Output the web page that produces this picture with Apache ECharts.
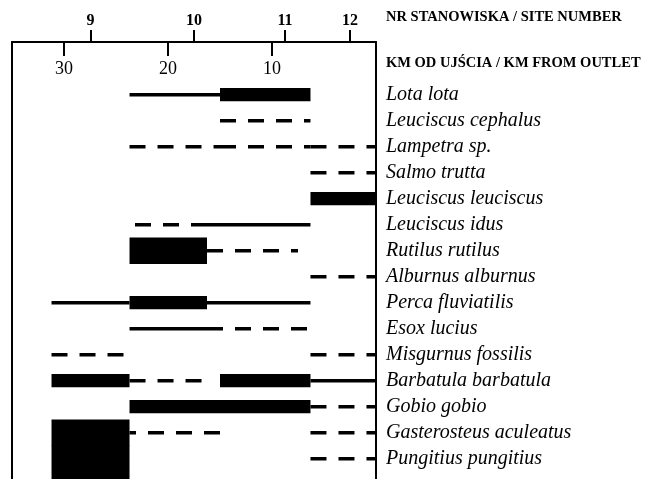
<!DOCTYPE html>
<html><head><meta charset="utf-8">
<script src="https://cdn.jsdelivr.net/npm/echarts@6/dist/echarts.min.js"></script>
<style>html,body{margin:0;padding:0;background:#fff}#c{width:645px;height:479px}</style>
</head><body><div id="c"></div>
<script>
// Species (rows, top to bottom)
const species = [
  'Lota lota','Leuciscus cephalus','Lampetra sp.','Salmo trutta','Leuciscus leuciscus',
  'Leuciscus idus','Rutilus rutilus','Alburnus alburnus','Perca fluviatilis','Esox lucius',
  'Misgurnus fossilis','Barbatula barbatula','Gobio gobio','Gasterosteus aculeatus','Pungitius pungitius'
];
// km from outlet tick labels
const kmTicks = [10, 20, 30];
// site numbers and their km position
const siteNumbers = [9, 10, 11, 12];
const siteKm = [27.45, 17.5, 8.75, 2.5];
// occurrence segments: [speciesIndex, fromKm, toKm, kind]
const segments = [
  [0, 23.7, 15.0, 'line'], [0, 15.0, 6.3, 'bar'],
  [1, 15.0, 6.3, 'dash'],
  [2, 23.7, 15.0, 'dash'], [2, 15.0, 6.3, 'dash'], [2, 6.3, 0, 'dash'],
  [3, 6.3, 0, 'dash'],
  [4, 6.3, 0, 'bar'],
  [5, 16.25, 23.7, 'dash'], [5, 16.25, 6.3, 'line'],
  [6, 23.7, 16.25, 'wide'], [6, 16.25, 7.5, 'dash'],
  [7, 6.3, 0, 'dash'],
  [8, 31.2, 23.7, 'line'], [8, 23.7, 16.25, 'bar'], [8, 16.25, 6.3, 'line'],
  [9, 23.7, 16.25, 'line'], [9, 16.25, 6.3, 'dash'],
  [10, 31.2, 23.7, 'dash'], [10, 6.3, 0, 'dash'],
  [11, 31.2, 23.7, 'bar'], [11, 23.7, 16.25, 'dash'], [11, 15.0, 6.3, 'bar'], [11, 6.3, 0, 'line'],
  [12, 23.7, 15.0, 'bar'], [12, 15.0, 6.3, 'bar'], [12, 6.3, 0, 'dash'],
  [13, 31.2, 23.7, 'wide'], [13, 15.0, 23.7, 'dash'], [13, 6.3, 0, 'dash'],
  [14, 31.2, 23.7, 'wide'], [14, 6.3, 0, 'dash']
];

const kindCode = {line: 0, dash: 1, bar: 2, wide: 3};
const segData = segments.map(s => [s[0], s[1], s[2], kindCode[s[3]]]);
const rowIdx = species.map((_, i) => i);
const FONT = 'Liberation Serif';

const chart = echarts.init(document.getElementById('c'), null, {renderer: 'canvas'});
chart.setOption({
  animation: false,
  backgroundColor: '#fff',
  textStyle: {fontFamily: FONT, color: '#000'},
  grid: {left: 12, top: 42, width: 364, height: 437},
  xAxis: [
    {
      type: 'value', position: 'top', inverse: true, min: 0, max: 35, interval: 10,
      axisLine: {show: true, onZero: false, lineStyle: {color: '#000', width: 2}},
      axisTick: {show: true, inside: true, length: 14, customValues: kmTicks, lineStyle: {color: '#000', width: 2}},
      axisLabel: {show: true, inside: true, margin: 27, verticalAlign: 'middle',
        customValues: kmTicks, formatter: v => String(v),
        fontFamily: FONT, fontSize: 18, color: '#000'},
      splitLine: {show: false}
    },
    {
      type: 'value', position: 'top', inverse: true, min: 0, max: 35,
      axisLine: {show: false, onZero: false},
      axisTick: {show: true, length: 12, customValues: siteKm, lineStyle: {color: '#000', width: 2}},
      axisLabel: {show: true, margin: 21.5, verticalAlign: 'middle', customValues: siteKm,
        formatter: v => String(siteNumbers[siteKm.indexOf(v)]),
        fontFamily: FONT, fontSize: 16, fontWeight: 'bold', color: '#000'},
      splitLine: {show: false}
    }
  ],
  yAxis: [
    {
      type: 'value', inverse: true, min: -2.027, max: 14.78, position: 'left',
      axisLine: {show: true, onZero: false, lineStyle: {color: '#000', width: 2}},
      axisTick: {show: false}, axisLabel: {show: false}, splitLine: {show: false}
    },
    {
      type: 'value', inverse: true, min: -2.027, max: 14.78, position: 'right',
      axisLine: {show: true, onZero: false, lineStyle: {color: '#000', width: 2}},
      axisTick: {show: false},
      axisLabel: {show: true, margin: 10, customValues: rowIdx,
        formatter: v => species[Math.round(v)],
        fontFamily: FONT, fontSize: 20, fontStyle: 'italic', color: '#000'},
      splitLine: {show: false}
    }
  ],
  graphic: [
    {type: 'text', left: 386, top: 10, style: {text: 'NR STANOWISKA / SITE NUMBER',
      font: 'bold 14.5px "Liberation Serif"', fill: '#000'}},
    {type: 'text', left: 386, top: 56, style: {text: 'KM OD UJŚCIA / KM FROM OUTLET',
      font: 'bold 14.5px "Liberation Serif"', fill: '#000'}}
  ],
  series: [{
    type: 'custom',
    xAxisIndex: 0, yAxisIndex: 0,
    clip: false,
    encode: {x: [1, 2], y: 0},
    data: segData,
    renderItem: function (params, api) {
      const row = api.value(0), k0 = api.value(1), k1 = api.value(2), kind = api.value(3);
      const p0 = api.coord([k0, row]), p1 = api.coord([k1, row]);
      const cs = params.coordSys;
      if (kind <= 1) {
        return {type: 'line', shape: {x1: p0[0], y1: p0[1], x2: p1[0], y2: p1[1]},
          style: {stroke: '#000', lineWidth: 3.5, lineDash: kind === 1 ? [16, 12] : null, lineCap: 'butt'}};
      }
      const h = kind === 2 ? 13.3 : 26.6;
      const x = Math.min(p0[0], p1[0]), w = Math.abs(p1[0] - p0[0]);
      const y = p0[1] - h / 2;
      let hh = h;
      if (kind === 3 && row === species.length - 1) hh = cs.y + cs.height - y;
      return {type: 'rect', shape: {x: x, y: y, width: w, height: hh}, style: {fill: '#000'}};
    }
  }]
});
</script>
</body></html>
